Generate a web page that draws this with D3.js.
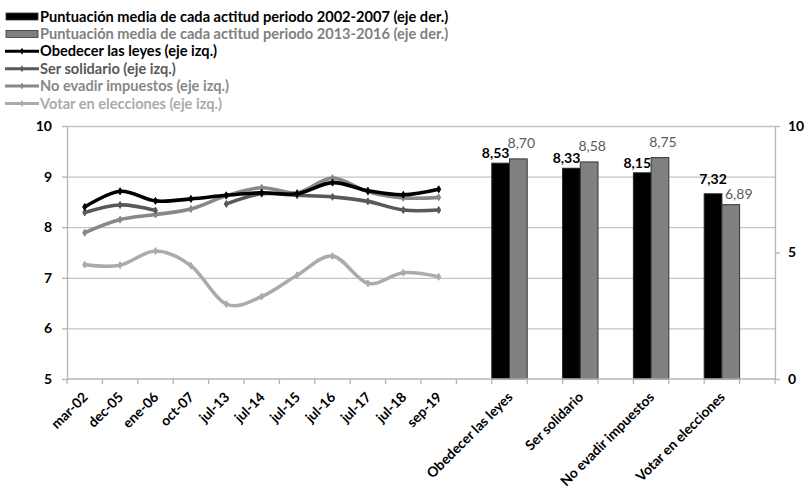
<!DOCTYPE html>
<html>
  <head>
    <meta charset="utf-8" />
    <title>Actitudes cívicas</title>
    <script src="https://d3js.org/d3.v7.min.js"></script>
    <style>
      body { margin: 0; background: #fff; }
      svg text { font-family: Lato, "Open Sans", sans-serif; }
    </style>
  </head>
  <body>
    <svg id="chart" width="809" height="495"></svg>
    <script>
      // Datos
      const fechas = ["mar-02", "dec-05", "ene-06", "oct-07", "jul-13", "jul-14", "jul-15", "jul-16", "jul-17", "jul-18", "sep-19"];
      const actitudes = ["Obedecer las leyes", "Ser solidario", "No evadir impuestos", "Votar en elecciones"];

      const obedecer = [8.40, 8.71, 8.52, 8.56, 8.63, 8.68, 8.66, 8.88, 8.72, 8.64, 8.75];
      const solidario = [8.29, 8.44, 8.33, null, 8.46, 8.66, 8.63, 8.60, 8.51, 8.34, 8.34];
      const impuestos = [7.89, 8.15, 8.25, 8.36, 8.62, 8.78, 8.68, 8.97, 8.70, 8.58, 8.59];
      const votar = [7.26, 7.25, 7.53, 7.24, 6.48, 6.63, 7.05, 7.43, 6.89, 7.10, 7.02];

      const periodo1 = [8.53, 8.33, 8.15, 7.32]; // 2002-2007
      const periodo2 = [8.70, 8.58, 8.75, 6.89]; // 2013-2016

      const ticksIzq = [5, 6, 7, 8, 9, 10];
      const ticksDer = [0, 5, 10];

      // categorias del eje x: fechas, luego actitudes con huecos entre ellas
      const categorias = [...fechas];
      actitudes.forEach((a, i) => {
        categorias.push("_" + i);
        categorias.push(a);
      });
      categorias.push("_fin");

      const svg = d3.select("#chart");
      const mLeft = 67, mRight = 775, mTop = 126, mBottom = 379;

      const x = d3.scaleBand().domain(categorias).range([mLeft, mRight]).padding(0);
      const yL = d3.scaleLinear().domain([5, 10]).range([mBottom, mTop]);
      const yR = d3.scaleLinear().domain([0, 10]).range([mBottom, mTop]);
      const xb = d3.scaleBand().domain(["p1", "p2"]).range([0, x.bandwidth()]).padding(0);

      const axisColor = "#b4b4b4";
      const fmt = (v) => d3.format(".2f")(v).replace(".", ",");

      // rejilla
      svg.append("g")
        .attr("transform", `translate(${mLeft},0)`)
        .call(d3.axisLeft(yL).tickValues(ticksIzq.slice(1)).tickSize(-(mRight - mLeft)).tickFormat(""))
        .call((g) => g.select(".domain").remove())
        .selectAll("line").attr("stroke", "#c4c4c4").attr("stroke-width", 1.3);

      // ejes verticales
      const gL = svg.append("g")
        .attr("transform", `translate(${mLeft},0)`)
        .call(d3.axisLeft(yL).tickValues(ticksIzq).tickFormat(d3.format("d")).tickSize(5).tickPadding(10).tickSizeOuter(0));
      const gR = svg.append("g")
        .attr("transform", `translate(${mRight},0)`)
        .call(d3.axisRight(yR).tickValues(ticksDer).tickFormat(d3.format("d")).tickSize(5).tickPadding(8).tickSizeOuter(0));
      [gL, gR].forEach((g) => {
        g.select(".domain").attr("stroke", axisColor).attr("stroke-width", 1.3);
        g.selectAll(".tick line").attr("stroke", axisColor).attr("stroke-width", 1.3);
        g.selectAll("text").attr("font-size", 14).attr("font-weight", "bold").attr("fill", "#000");
      });

      // barras
      const barras = svg.append("g");
      actitudes.forEach((a, i) => {
        const x0 = x(a);
        const c1 = x0 + xb("p1") + xb.bandwidth() / 2;
        const c2 = x0 + xb("p2") + xb.bandwidth() / 2;
        barras.append("rect")
          .attr("x", x0 + xb("p1")).attr("width", xb.bandwidth())
          .attr("y", yR(periodo1[i])).attr("height", mBottom - yR(periodo1[i]))
          .attr("fill", "#000").attr("stroke", "#222").attr("stroke-width", 1);
        barras.append("rect")
          .attr("x", x0 + xb("p2")).attr("width", xb.bandwidth())
          .attr("y", yR(periodo2[i])).attr("height", mBottom - yR(periodo2[i]))
          .attr("fill", "#808080").attr("stroke", "#333").attr("stroke-width", 1);

        // etiquetas: si quedan casi a la misma altura, se separan
        let y1 = yR(periodo1[i]) - 5, y2 = yR(periodo2[i]) - 11;
        let dx1 = -5, dx2 = 3;
        if (Math.abs(y1 - y2) < 8) {
          y1 = yR(periodo1[i]) - 10; y2 = yR(periodo2[i]) - 6;
          dx1 = 0; dx2 = 8;
        }
        barras.append("text")
          .attr("x", c1 + dx1).attr("y", y1)
          .attr("text-anchor", "middle")
          .attr("font-size", 14).attr("font-weight", "bold").attr("fill", "#000")
          .text(fmt(periodo1[i]));
        barras.append("text")
          .attr("x", c2 + dx2).attr("y", y2)
          .attr("text-anchor", "middle")
          .attr("font-size", 14).attr("fill", "#5a5a5a")
          .text(fmt(periodo2[i]));
      });

      // eje x
      const gx = svg.append("g");
      gx.append("line")
        .attr("x1", mLeft).attr("x2", mRight).attr("y1", mBottom).attr("y2", mBottom)
        .attr("stroke", axisColor).attr("stroke-width", 1.3);
      gx.selectAll(".tk")
        .data([...categorias.map((c) => x(c)), mRight])
        .join("line")
        .attr("x1", (d) => d).attr("x2", (d) => d)
        .attr("y1", mBottom).attr("y2", mBottom + 5)
        .attr("stroke", axisColor).attr("stroke-width", 1.3);
      gx.selectAll(".lbl")
        .data(categorias.filter((c) => !c.startsWith("_")))
        .join("text")
        .attr("transform", (d) => `translate(${x(d) + x.bandwidth() / 2 + 4},${mBottom + 19}) rotate(-45)`)
        .attr("text-anchor", "end")
        .attr("font-size", 13.8).attr("font-weight", "bold")
        .text((d) => d);

      // lineas
      const series = [
        { nombre: "Obedecer las leyes (eje izq.)", valores: obedecer, color: "#000000" },
        { nombre: "Ser solidario (eje izq.)", valores: solidario, color: "#595959" },
        { nombre: "No evadir impuestos (eje izq.)", valores: impuestos, color: "#888888" },
        { nombre: "Votar en elecciones (eje izq.)", valores: votar, color: "#ababab" },
      ];
      const line = d3.line()
        .defined((d) => d.v != null)
        .x((d) => x(d.c) + x.bandwidth() / 2)
        .y((d) => yL(d.v))
        .curve(d3.curveCardinal.tension(0));
      const marker = d3.symbol().type(d3.symbolDiamond).size(14);

      series.slice().reverse().forEach((s) => {
        const pts = fechas.map((c, i) => ({ c: c, v: s.valores[i] }));
        svg.append("path")
          .datum(pts)
          .attr("d", line)
          .attr("fill", "none")
          .attr("stroke", s.color)
          .attr("stroke-width", 3.6);
        svg.append("g").selectAll("path")
          .data(pts.filter((d) => d.v != null))
          .join("path")
          .attr("transform", (d) => `translate(${x(d.c) + x.bandwidth() / 2},${yL(d.v)})`)
          .attr("d", marker)
          .attr("fill", s.color)
          .attr("stroke", s.color)
          .attr("stroke-width", 1);
      });

      // leyenda
      const leyenda = [
        { nombre: "Puntuación media de cada actitud periodo 2002-2007 (eje der.)", tipo: "rect", color: "#000", texto: "#000" },
        { nombre: "Puntuación media de cada actitud periodo 2013-2016 (eje der.)", tipo: "rect", color: "#808080", texto: "#808080" },
        ...series.map((s) => ({ nombre: s.nombre, tipo: "line", color: s.color, texto: s.color })),
      ];
      const lg = svg.append("g");
      leyenda.forEach((d, i) => {
        const cy = 16.5 + i * 17.4;
        if (d.tipo === "rect") {
          lg.append("rect")
            .attr("x", 6).attr("y", cy - 3.5).attr("width", 32).attr("height", 7)
            .attr("fill", d.color).attr("stroke", "#333").attr("stroke-width", 0.8);
        } else {
          lg.append("line")
            .attr("x1", 5).attr("x2", 39).attr("y1", cy).attr("y2", cy)
            .attr("stroke", d.color).attr("stroke-width", 3);
          lg.append("path")
            .attr("transform", `translate(22,${cy})`)
            .attr("d", marker)
            .attr("fill", d.color);
        }
        lg.append("text")
          .attr("x", 40).attr("y", cy).attr("dy", "0.35em")
          .attr("font-size", 14.6).attr("font-weight", "bold")
          .attr("fill", d.texto)
          .text(d.nombre);
      });
    </script>
  </body>
</html>
